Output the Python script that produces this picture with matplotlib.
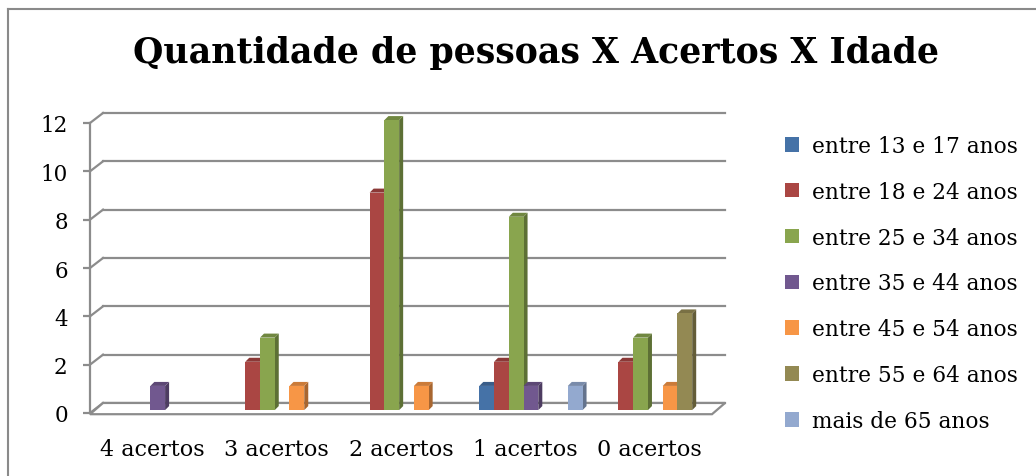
import matplotlib
matplotlib.use('Agg')
import matplotlib.pyplot as plt
from matplotlib.patches import Polygon, Patch
from matplotlib.lines import Line2D
import numpy as np

plt.rcParams['font.family'] = ['DejaVu Serif']

categories = ['4 acertos', '3 acertos', '2 acertos', '1 acertos', '0 acertos']
series_names = ['entre 13 e 17 anos', 'entre 18 e 24 anos', 'entre 25 e 34 anos',
                'entre 35 e 44 anos', 'entre 45 e 54 anos', 'entre 55 e 64 anos',
                'mais de 65 anos']
idade_13_17 = [0, 0, 0, 1, 0]
idade_18_24 = [0, 2, 9, 2, 2]
idade_25_34 = [0, 3, 12, 8, 3]
idade_35_44 = [1, 0, 0, 1, 0]
idade_45_54 = [0, 1, 1, 0, 1]
idade_55_64 = [0, 0, 0, 0, 4]
idade_65_mais = [0, 0, 0, 1, 0]
series = [idade_13_17, idade_18_24, idade_25_34, idade_35_44,
          idade_45_54, idade_55_64, idade_65_mais]
colors = ['#4572A7', '#AA4643', '#89A54E', '#71588F', '#F79646', '#938953', '#93A9CF']

W, H = 1036, 477
fig = plt.figure(figsize=(W / 100, H / 100), dpi=100)
ax = fig.add_axes([90 / W, (H - 414) / H, 622 / W, 290 / H])
ax.set_xlim(-0.5, 4.5)
ax.set_ylim(0, 12)

grid_c = '#8c8c8c'
# fake 3D: wall depth offset in data units
DX, DY = 13 / 124, 10 / 24.1
for y in range(0, 13, 2):
    ax.plot([-0.5 + DX, 4.5 + DX], [y + DY, y + DY], color=grid_c, lw=1.6, clip_on=False, zorder=1)
    ax.plot([-0.5, -0.5 + DX], [y, y + DY], color=grid_c, lw=1.6, clip_on=False, zorder=1)

# floor
floor = Polygon([(-0.5, -0.05), (4.5, -0.05), (4.5 + DX, DY), (-0.5 + DX, DY)],
                closed=True, facecolor='white', edgecolor=grid_c, lw=1.6, clip_on=False, zorder=1.5)
ax.add_patch(floor)


def shade(c, f):
    rgb = np.array(matplotlib.colors.to_rgb(c))
    return tuple(rgb * f)


BW = 14.7 / 124
SHIFT = 5.5 / 124
BASE = 0.12
bx, by = 4 / 124, 4 / 24.1
x = np.arange(len(categories))
for k, (vals, c) in enumerate(zip(series, colors)):
    xs = x + (k - 3) * BW + SHIFT
    bars = ax.bar(xs, vals, width=BW, bottom=BASE, color=c, clip_on=False)
    for i, (bar, v) in enumerate(zip(bars, vals)):
        n = i * 7 + k
        z = 3 + n * 0.01
        if v == 0:
            bar.set_visible(False)
            continue
        bar.set_zorder(z + 0.005)
        x0, x1 = xs[i] - BW / 2, xs[i] + BW / 2
        top = BASE + v
        side = Polygon([(x1, BASE), (x1 + bx, BASE + by), (x1 + bx, top + by), (x1, top)],
                       closed=True, facecolor=shade(c, 0.68), edgecolor='none', clip_on=False, zorder=z)
        cap = Polygon([(x0, top), (x1, top), (x1 + bx, top + by), (x0 + bx, top + by)],
                      closed=True, facecolor=shade(c, 0.82), edgecolor='none', clip_on=False, zorder=z)
        ax.add_patch(side)
        ax.add_patch(cap)

for s in ['top', 'right', 'bottom']:
    ax.spines[s].set_visible(False)
ax.spines['left'].set_color(grid_c)
ax.spines['left'].set_linewidth(1.6)
ax.spines['left'].set_zorder(2)
ax.set_yticks(range(0, 13, 2))
ax.set_xticks(x)
ax.set_xticklabels(categories)
ax.tick_params(axis='y', length=5, width=1.6, color=grid_c, labelsize=15.5, pad=11)
ax.tick_params(axis='x', length=0, labelsize=16, pad=18)
ax.set_facecolor('none')

handles = [Patch(facecolor=c, edgecolor='none') for c in colors]
fig.legend(handles, series_names, loc='upper left', bbox_to_anchor=(785 / W, 1 - 136 / H),
           bbox_transform=fig.transFigure, frameon=False, fontsize=15.6,
           handlelength=0.65, handleheight=0.65, handletextpad=0.6, labelspacing=1.1,
           borderpad=0, borderaxespad=0)

fig.text(536 / W, 1 - 53 / H, 'Quantidade de pessoas X Acertos X Idade',
         ha='center', va='center', fontsize=25, fontweight='bold')

# chart frame
fig.add_artist(Line2D([8 / W, 8 / W], [0, 1 - 10 / H], color='#8a8a8a', lw=1.5))
fig.add_artist(Line2D([8 / W, 1], [1 - 10 / H, 1 - 10 / H], color='#8a8a8a', lw=1.5))

fig.savefig('out.png', dpi=100)
